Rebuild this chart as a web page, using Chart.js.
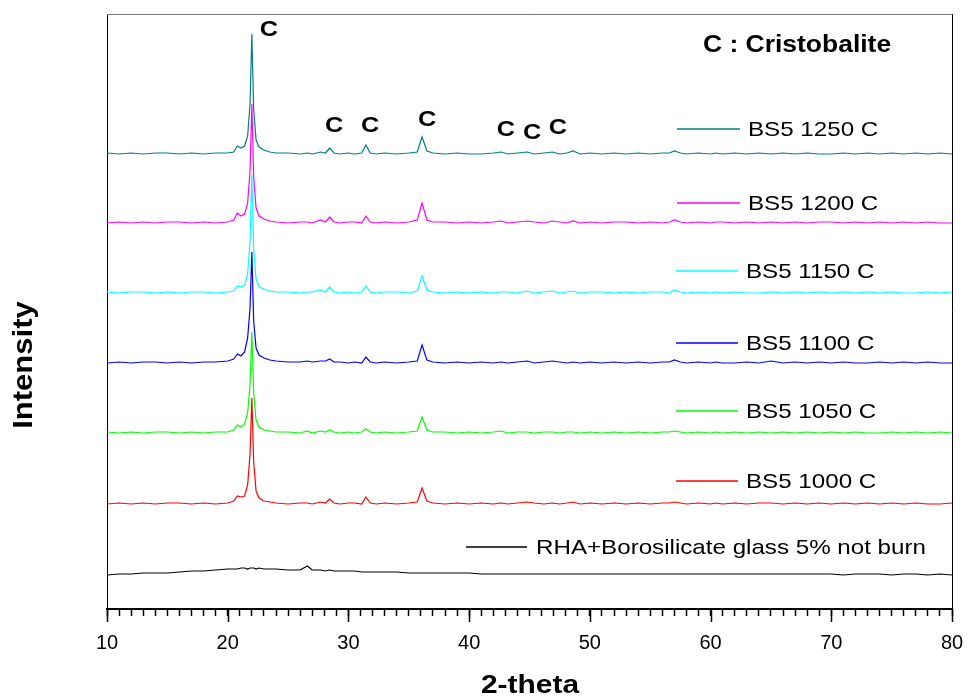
<!DOCTYPE html>
<html>
<head>
<meta charset="utf-8">
<script src="https://cdn.jsdelivr.net/npm/chart.js@4/dist/chart.umd.min.js"></script>
<style>
  html, body { margin: 0; padding: 0; background: #fff; }
  canvas { display: block; }
</style>
</head>
<body>
<canvas id="xrd" width="968" height="700"></canvas>
<script>
// 2-theta grid (degrees)
const theta = [
    10, 11, 12, 13, 14, 15, 16, 17, 18, 19, 20,
    20.5, 20.8, 21.1, 21.4, 21.65, 21.85, 22.0, 22.15, 22.35, 22.6, 23, 23.5, 24,
    25, 26, 26.6, 27, 27.7, 28.1, 28.45, 28.8, 29.3, 30,
    30.5, 31.1, 31.45, 31.8, 32.3, 33, 34, 35, 35.7, 36.1, 36.5, 37,
    38, 39, 40, 41, 42, 42.65, 43.2, 44, 44.8, 45.4, 46.2, 46.9, 47.5, 48.1, 48.6, 49.2, 50,
    51, 52, 53, 54, 55, 56, 56.6, 57.0, 57.5, 58, 59, 60, 60.4, 61,
    62, 63, 64, 65, 66, 67, 68, 69, 70, 71, 72, 73, 74, 75, 76, 77, 78, 79, 80
];

// intensities above each pattern's own baseline
const bs1250 = [
    1, 0, 1, 0, 1, 1, 0, 1, 0, 1, 1,
    2, 8, 6, 8, 18, 50, 120, 45, 14, 7, 4, 2, 1,
    1, 0, 1, 0, 2, 1, 6, 1, 0, 1,
    0, 1, 9, 1, 0, 1, 0, 1, 2, 17, 3, 1,
    0, 1, 0, 0, 1, 2, 0, 1, 2, 0, 1, 2, 0, 1, 3, 0, 1,
    0, 1, 0, 1, 0, 1, 1, 3, 1, 0, 1, 0, 1, 0,
    1, 0, 1, 0, 1, 0, 1, 0, 0, 1, 0, 1, 0, 1, 0, 1, 0, 1, 0
];
const bs1200 = [
    0, 1, 0, 1, 0, 1, 1, 0, 1, 0, 1,
    3, 10, 7, 9, 20, 52, 119, 46, 15, 7, 4, 2, 1,
    0, 1, 1, 0, 3, 1, 6, 1, 0, 1,
    1, 0, 7, 1, 0, 1, 0, 1, 3, 20, 3, 1,
    1, 0, 1, 0, 1, 2, 0, 1, 2, 1, 0, 2, 1, 0, 2, 0, 1,
    0, 1, 1, 0, 1, 0, 1, 3, 1, 0, 1, 0, 1, 1,
    0, 1, 0, 1, 0, 1, 0, 1, 1, 0, 1, 0, 1, 0, 1, 0, 1, 0, 0
];
const bs1150 = [
    1, 0, 1, 1, 0, 1, 0, 1, 1, 0, 1,
    2, 7, 6, 8, 19, 51, 118, 44, 14, 6, 4, 2, 1,
    1, 0, 1, 1, 3, 1, 6, 1, 0, 1,
    0, 1, 7, 1, 0, 1, 1, 0, 2, 17, 3, 1,
    0, 1, 0, 1, 0, 1, 1, 0, 2, 0, 1, 2, 0, 1, 2, 0, 1,
    1, 0, 1, 0, 1, 1, 0, 3, 1, 0, 1, 0, 1, 0,
    1, 0, 0, 1, 0, 1, 0, 1, 0, 1, 0, 1, 0, 1, 0, 0, 1, 0, 1
];
const bs1100 = [
    0, 1, 0, 1, 1, 0, 1, 0, 1, 1, 2,
    4, 9, 7, 11, 25, 55, 111, 42, 15, 8, 5, 3, 2,
    1, 1, 2, 1, 2, 2, 4, 1, 1, 0,
    1, 0, 6, 1, 0, 1, 0, 1, 2, 18, 3, 1,
    0, 1, 0, 1, 0, 1, 0, 1, 2, 0, 1, 2, 1, 0, 1, 0, 1,
    0, 1, 0, 1, 0, 1, 1, 3, 1, 0, 1, 0, 1, 0,
    0, 1, 0, 2, 0, 1, 0, 1, 0, 1, 0, 0, 1, 0, 1, 0, 1, 0, 0
];
const bs1050 = [
    1, 0, 1, 0, 1, 1, 0, 1, 0, 1, 1,
    3, 8, 6, 9, 20, 48, 101, 40, 13, 6, 3, 2, 1,
    1, 0, 2, 0, 2, 1, 3, 1, 0, 1,
    0, 1, 4, 1, 0, 1, 0, 1, 2, 16, 3, 1,
    1, 0, 1, 0, 1, 2, 0, 1, 1, 0, 1, 1, 0, 1, 1, 0, 1,
    0, 1, 0, 1, 0, 1, 1, 2, 1, 0, 1, 0, 1, 0,
    1, 0, 1, 0, 1, 0, 1, 0, 1, 0, 1, 0, 0, 1, 0, 1, 0, 1, 0
];
const bs1000 = [
    0, 1, 0, 1, 0, 1, 1, 0, 1, 0, 1,
    3, 8, 7, 8, 19, 50, 106, 42, 13, 6, 3, 2, 1,
    0, 1, 1, 0, 2, 1, 5, 1, 0, 1,
    1, 0, 7, 1, 0, 1, 0, 1, 2, 16, 3, 1,
    0, 1, 0, 1, 0, 1, 0, 1, 2, 1, 0, 1, 0, 1, 2, 0, 1,
    0, 1, 0, 1, 0, 1, 1, 2, 1, 0, 1, 0, 1, 0,
    1, 0, 1, 1, 0, 1, 0, 1, 0, 1, 0, 1, 0, 1, 0, 1, 0, 0, 1
];
const notBurn = [
    0, 1, 1, 2, 2, 2, 3, 4, 4, 5, 6,
    6, 6, 7, 7, 6, 7, 7, 7, 6, 7, 6, 6, 6,
    5, 5, 9, 5, 5, 4, 5, 4, 4, 4,
    4, 3, 3, 3, 3, 3, 3, 2, 2, 2, 2, 2,
    2, 2, 2, 1, 1, 1, 1, 1, 1, 1, 1, 1, 1, 1, 1, 1, 1,
    1, 1, 1, 1, 1, 1, 1, 1, 1, 1, 1, 1, 1, 1,
    1, 1, 1, 1, 1, 1, 1, 1, 1, 0, 1, 1, 1, 0, 1, 1, 0, 1, 0
];

const seriesNames = ['BS5 1250 C', 'BS5 1200 C', 'BS5 1150 C', 'BS5 1100 C', 'BS5 1050 C', 'BS5 1000 C', 'RHA+Borosilicate glass 5% not burn'];
const seriesData = [bs1250, bs1200, bs1150, bs1100, bs1050, bs1000, notBurn];
const seriesOffset = [455, 386, 316, 246, 176, 105, 34];
const seriesColor = ['#008080', '#ff00ff', '#00ffff', '#0000ff', '#00ff00', '#ff0000', '#000000'];
const seriesOrder = [5, 4, 3, 2, 1, 0, 6];

// "C" peak marks: 2-theta and height of the label
const markTheta = [23.42, 28.81, 31.79, 36.51, 43.05, 45.21, 47.36];
const markY = [579, 483, 483, 489, 479, 476, 481];

const xTicks = [10, 20, 30, 40, 50, 60, 70, 80];

const FONT = 'Arial, "Liberation Sans", Helvetica, sans-serif';

function stretchText(ctx, text, x, y, font, align) {
    ctx.save();
    ctx.font = font;
    ctx.fillStyle = '#000';
    ctx.textAlign = align;
    ctx.textBaseline = 'middle';
    ctx.translate(x, y);
    ctx.scale(1.15, 1);
    ctx.fillText(text, 0, 0);
    ctx.restore();
}

const legendPos = [
    [677, 740, 748, 129],
    [677, 740, 748, 203],
    [676, 738, 746, 271],
    [676, 738, 746, 343],
    [676, 738, 746, 411],
    [676, 738, 746, 481],
    [466, 527, 536, 547]
];

const decor = {
    id: 'decor',
    afterDatasetsDraw(chart) {
        const ctx = chart.ctx;
        const area = chart.chartArea;
        const xs = chart.scales.x;
        const ys = chart.scales.y;

        // top and right frame
        ctx.save();
        ctx.lineWidth = 1;
        ctx.strokeStyle = '#777';
        ctx.beginPath();
        ctx.moveTo(area.left, area.top + 0.5);
        ctx.lineTo(area.right, area.top + 0.5);
        ctx.stroke();
        ctx.strokeStyle = '#000';
        ctx.beginPath();
        ctx.moveTo(area.right + 0.5, area.top);
        ctx.lineTo(area.right + 0.5, area.bottom);
        ctx.stroke();

        // longer major ticks
        ctx.lineWidth = 1.5;
        xTicks.forEach(v => {
            const px = Math.round(xs.getPixelForValue(v)) + 0.5;
            ctx.beginPath();
            ctx.moveTo(px, area.bottom);
            ctx.lineTo(px, area.bottom + 13);
            ctx.stroke();
        });
        ctx.restore();

        // peak labels
        markTheta.forEach((t, i) => {
            stretchText(ctx, 'C', xs.getPixelForValue(t), ys.getPixelForValue(markY[i]), 'bold 22px ' + FONT, 'center');
        });
        stretchText(ctx, 'C : Cristobalite', 703, 46, 'bold 23px ' + FONT, 'left');

        // legend next to each pattern
        seriesNames.forEach((name, i) => {
            const p = legendPos[i];
            ctx.save();
            ctx.strokeStyle = seriesColor[i];
            ctx.lineWidth = 1.3;
            ctx.beginPath();
            ctx.moveTo(p[0], p[3]);
            ctx.lineTo(p[1], p[3]);
            ctx.stroke();
            ctx.restore();
            stretchText(ctx, name, p[2], p[3] + 1, '21px ' + FONT, 'left');
        });

        // axis titles
        stretchText(ctx, '2-theta', 530, 686, 'bold 26px ' + FONT, 'center');
        ctx.save();
        ctx.translate(25, 365);
        ctx.rotate(-Math.PI / 2);
        stretchText(ctx, 'Intensity', 0, 0, 'bold 27px ' + FONT, 'center');
        ctx.restore();
    }
};

const datasets = seriesData.map((vals, i) => ({
    label: seriesNames[i],
    data: theta.map((t, j) => ({ x: t, y: vals[j] + seriesOffset[i] })),
    borderColor: seriesColor[i],
    borderWidth: 1.2,
    pointRadius: 0,
    tension: 0,
    fill: false,
    order: seriesOrder[i]
}));

const ctx = document.getElementById('xrd').getContext('2d');
new Chart(ctx, {
    type: 'line',
    data: { datasets: datasets },
    plugins: [decor],
    options: {
        responsive: false,
        animation: false,
        devicePixelRatio: 1,
        layout: { padding: { top: 14, right: 16, left: 0, bottom: 0 } },
        plugins: {
            legend: { display: false },
            tooltip: { enabled: false }
        },
        scales: {
            x: {
                type: 'linear',
                min: 10,
                max: 80,
                afterFit: s => {
                    s.height = 91;
                    s.paddingLeft = 0;
                    s.paddingRight = 0;
                },
                border: { display: true, color: '#000', width: 2 },
                grid: {
                    display: true,
                    drawOnChartArea: false,
                    drawTicks: true,
                    tickLength: 7,
                    color: '#000',
                    tickColor: '#000',
                    tickWidth: 1.5
                },
                ticks: {
                    stepSize: 1,
                    autoSkip: false,
                    maxRotation: 0,
                    padding: 15,
                    color: '#000',
                    font: { family: FONT, size: 20 },
                    callback: v => (v % 10 === 0 ? v : '')
                }
            },
            y: {
                type: 'linear',
                min: 0,
                max: 595,
                afterFit: s => { s.width = 107; },
                border: { display: true, color: '#000', width: 1 },
                grid: { display: false },
                ticks: { display: false }
            }
        }
    }
});
</script>
</body>
</html>
